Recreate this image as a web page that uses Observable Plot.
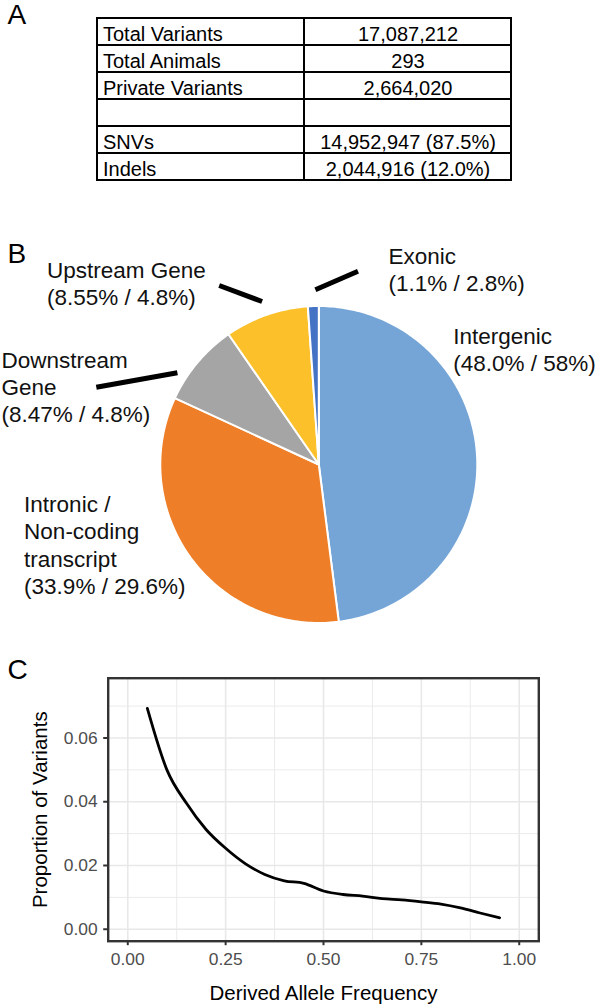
<!DOCTYPE html>
<html>
<head>
<meta charset="utf-8">
<script src="https://cdn.jsdelivr.net/npm/d3@7"></script>
<script src="https://cdn.jsdelivr.net/npm/@observablehq/plot@0.6"></script>
<style>
  html, body { margin: 0; padding: 0; background: #fff; overflow: hidden; }
  #fig { width: 596px; height: 1005px; }
  #fig svg { display: block; }
</style>
</head>
<body>
<div id="fig"></div>
<script>
// ---------------- DATA ----------------
// Panel A: summary table
const tableLabels = ["Total Variants", "Total Animals", "Private Variants", "", "SNVs", "Indels"];
const tableValues = ["17,087,212", "293", "2,664,020", "", "14,952,947 (87.5%)", "2,044,916 (12.0%)"];

// Panel B: variant annotation categories (SNV % / Indel %)
const categories = ["Intergenic", "Intronic / Non-coding transcript", "Downstream Gene", "Upstream Gene", "Exonic"];
const categoryLabels = ["Intergenic", "Intronic /\nNon-coding\ntranscript", "Downstream\nGene", "Upstream Gene", "Exonic"];
const snvPct = ["48.0", "33.9", "8.47", "8.55", "1.1"];
const indelPct = ["58", "29.6", "4.8", "4.8", "2.8"];

// Panel C: derived allele frequency spectrum
const daf = [0.05, 0.10, 0.15, 0.20, 0.25, 0.30, 0.35, 0.40, 0.45, 0.50, 0.55, 0.60, 0.65, 0.70, 0.75, 0.80, 0.85, 0.90, 0.95];
const proportion = [0.0693, 0.0500, 0.0395, 0.0313, 0.0254, 0.0206, 0.0172, 0.0152, 0.0144, 0.0120, 0.0109, 0.0104, 0.0096, 0.0092, 0.0086, 0.0079, 0.0067, 0.0051, 0.0036];
const xTicks = [0, 0.25, 0.5, 0.75, 1];
const xMinor = [0.125, 0.375, 0.625, 0.875];
const yTicks = [0, 0.02, 0.04, 0.06];
const yMinor = [0.01, 0.03, 0.05, 0.07];

// ---------------- STYLE / LAYOUT ----------------
const FONT = "'Liberation Sans', Arial, Helvetica, sans-serif";
const W = 596;
const sliceColors = ["#75A5D7", "#EE7E27", "#A5A5A5", "#FBC02A", "#4472C4"];
const fig = document.getElementById("fig");

// ---------------- PANEL A ----------------
const tableH = 200;
const tbl = {top: 17, bottom: 181, left: 97, right: 511};
const colW = (tbl.right - tbl.left) / 2;
const cells = tableLabels.flatMap((t, i) => [
  {row: i, col: "label", text: t},
  {row: i, col: "value", text: tableValues[i]}
]);
const plotA = Plot.plot({
  width: W, height: tableH,
  marginTop: tbl.top, marginBottom: tableH - tbl.bottom,
  marginLeft: tbl.left, marginRight: W - tbl.right,
  style: {fontFamily: FONT, background: "white", color: "black"},
  x: {domain: ["label", "value"], padding: 0, axis: null},
  y: {domain: d3.range(tableLabels.length), padding: 0, axis: null},
  marks: [
    Plot.cell(cells, {x: "col", y: "row", fill: "white", stroke: "black", strokeWidth: 2}),
    Plot.text(cells.filter(d => d.col === "label"), {
      x: "col", y: "row", text: "text", textAnchor: "start",
      dx: -colW / 2 + 5.5, dy: 3, fontSize: 20, fill: "black"
    }),
    Plot.text(cells.filter(d => d.col === "value"), {
      x: "col", y: "row", text: "text", dy: 3, fontSize: 20, fill: "black"
    }),
    Plot.text(["A"], {
      frameAnchor: "top-left", textAnchor: "start", lineAnchor: "bottom",
      dx: 7 - tbl.left, dy: 23 - tbl.top, fontSize: 28, fill: "black"
    })
  ]
});
fig.appendChild(plotA);

// ---------------- PANEL B ----------------
const pieTop = 200, pieH = 430;
const pie = {cx: 318.3, cy: 464 - pieTop, r: 158.5};
const ux = px => (px - pie.cx) / pie.r;
const uy = pageY => (pie.cy - (pageY - pieTop)) / pie.r;

const arcs = d3.pie().sort(null).value(d => d.value)(
  categories.map((c, i) => ({cat: c, value: +snvPct[i]}))
);
const slicePts = arcs.flatMap(a => {
  const n = Math.max(2, Math.ceil((a.endAngle - a.startAngle) * 180 / Math.PI));
  const pts = [{cat: a.data.cat, x: 0, y: 0}];
  for (let k = 0; k <= n; k++) {
    const t = a.startAngle + (a.endAngle - a.startAngle) * k / n;
    pts.push({cat: a.data.cat, x: Math.sin(t), y: Math.cos(t)});
  }
  pts.push({cat: a.data.cat, x: 0, y: 0});
  return pts;
});

const LFS = 22.5, LLH = 1.21;
// label anchor (left x, first baseline y) in page pixels
const labelLayout = [
  {x: 452.7, y: 343.3},
  {x: 23.6, y: 511.7},
  {x: 1, y: 367.3},
  {x: 46.4, y: 277},
  {x: 388, y: 263.3}
];
const leaderLayout = [
  null,
  null,
  [95.8, 386.7, 176.9, 372.3],
  [218.7, 285, 261.6, 301],
  [314.9, 289.3, 357.5, 270.7]
];
const labels = categories.map((c, i) => ({
  text: `${categoryLabels[i]}\n(${snvPct[i]}% / ${indelPct[i]}%)`,
  x: ux(labelLayout[i].x),
  y: uy(labelLayout[i].y - 0.71 * LLH * LFS)
}));
const leaders = leaderLayout.filter(d => d).map(d => ({
  x1: ux(d[0]), y1: uy(d[1]), x2: ux(d[2]), y2: uy(d[3])
}));

const plotB = Plot.plot({
  width: W, height: pieH, margin: 0,
  style: {fontFamily: FONT, background: "white", color: "black"},
  x: {domain: [ux(0), ux(W)], range: [0, W], axis: null},
  y: {domain: [uy(pieTop + pieH), uy(pieTop)], range: [pieH, 0], axis: null},
  color: {domain: categories, range: sliceColors},
  marks: [
    Plot.line(slicePts, {x: "x", y: "y", z: "cat", fill: "cat", stroke: "white", strokeWidth: 2, strokeLinejoin: "round"}),
    Plot.link(leaders, {x1: "x1", y1: "y1", x2: "x2", y2: "y2", stroke: "black", strokeWidth: 5}),
    Plot.text(labels, {
      x: "x", y: "y", text: "text", textAnchor: "start", lineAnchor: "top",
      lineHeight: LLH, fontSize: LFS, fill: "#111"
    }),
    Plot.text(["B"], {
      x: ux(7), y: uy(262), textAnchor: "start", lineAnchor: "bottom",
      fontSize: 28, fill: "black"
    })
  ]
});
fig.appendChild(plotB);

// ---------------- PANEL C ----------------
const lineTop = 630, lineH = 375;
const panel = {left: 107.7, right: 538.3, top: 677.7, bottom: 940.7};
const series = daf.map((d, i) => ({daf: d, prop: proportion[i]}));
const fmt = d3.format(".2f");
const plotC = Plot.plot({
  width: W, height: lineH,
  marginLeft: panel.left, marginRight: W - panel.right,
  marginTop: panel.top - lineTop, marginBottom: lineTop + lineH - panel.bottom,
  style: {fontFamily: FONT, background: "white", color: "black"},
  x: {domain: [-0.05, 1.05]},
  y: {domain: [-0.00375, 0.07875]},
  marks: [
    Plot.ruleX(xMinor, {stroke: "#EBEBEB", strokeWidth: 1}),
    Plot.ruleY(yMinor, {stroke: "#EBEBEB", strokeWidth: 1}),
    Plot.ruleX(xTicks, {stroke: "#E8E8E8", strokeWidth: 1.6}),
    Plot.ruleY(yTicks, {stroke: "#E8E8E8", strokeWidth: 1.6}),
    Plot.line(series, {x: "daf", y: "prop", stroke: "black", strokeWidth: 2.8, curve: "monotone-x"}),
    Plot.frame({stroke: "#333333", strokeWidth: 2.4}),
    Plot.axisX(xTicks, {
      tickSize: 4.5, tickPadding: 6.5, tickFormat: fmt, fontSize: 17.4,
      stroke: "#333333", strokeWidth: 2, fill: "#4D4D4D", label: null
    }),
    Plot.axisY(yTicks, {
      tickSize: 4.5, tickPadding: 6, tickFormat: fmt, fontSize: 17.4,
      stroke: "#333333", strokeWidth: 2, fill: "#4D4D4D", label: null
    }),
    Plot.text(["Derived Allele Frequency"], {
      frameAnchor: "bottom", dy: 993 - panel.bottom, lineAnchor: "middle",
      fontSize: 20.5, fill: "black"
    }),
    Plot.text(["Proportion of Variants"], {
      frameAnchor: "left", dx: 40 - panel.left, rotate: -90,
      textAnchor: "middle", lineAnchor: "middle",
      fontSize: 20.5, fill: "black"
    }),
    Plot.text(["C"], {
      frameAnchor: "top-left", textAnchor: "start", lineAnchor: "bottom",
      dx: 7 - panel.left, dy: 678 - panel.top, fontSize: 28, fill: "black"
    })
  ]
});
fig.appendChild(plotC);
</script>
</body>
</html>
